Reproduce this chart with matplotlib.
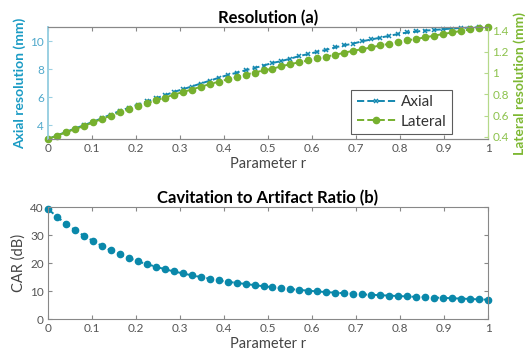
import numpy as np
import matplotlib
matplotlib.use("Agg")
import matplotlib.pyplot as plt
from matplotlib.ticker import FuncFormatter

# ---- data ----
r = np.linspace(0, 1, 50)
axial = [3.00, 3.25, 3.50, 3.75, 3.98, 4.23, 4.48, 4.75, 5.00, 5.23,
         5.46, 5.68, 5.91, 6.12, 6.36, 6.55, 6.75, 6.96, 7.16, 7.37,
         7.57, 7.73, 7.91, 8.07, 8.25, 8.43, 8.57, 8.74, 8.93, 9.07,
         9.23, 9.37, 9.55, 9.69, 9.82, 9.98, 10.11, 10.24, 10.37, 10.50,
         10.61, 10.68, 10.74, 10.79, 10.84, 10.89, 10.93, 10.96, 10.98, 11.00]
lateral = [0.381, 0.412, 0.444, 0.474, 0.502, 0.537, 0.568, 0.599, 0.631, 0.659,
           0.687, 0.715, 0.745, 0.767, 0.797, 0.820, 0.845, 0.870, 0.895, 0.918,
           0.940, 0.960, 0.984, 1.004, 1.024, 1.040, 1.063, 1.083, 1.101, 1.118,
           1.136, 1.154, 1.170, 1.190, 1.208, 1.223, 1.240, 1.259, 1.273, 1.290,
           1.306, 1.319, 1.334, 1.350, 1.365, 1.380, 1.394, 1.408, 1.420, 1.431]
car = [39.3, 36.5, 34.0, 31.8, 29.7, 27.9, 26.1, 24.5, 23.1, 21.8,
       20.6, 19.6, 18.7, 17.8, 17.0, 16.3, 15.6, 15.0, 14.4, 13.8,
       13.3, 12.9, 12.5, 12.1, 11.7, 11.35, 11.0, 10.7, 10.4, 10.1,
       9.85, 9.6, 9.4, 9.2, 9.0, 8.8, 8.65, 8.5, 8.35, 8.2,
       8.05, 7.9, 7.8, 7.65, 7.55, 7.4, 7.3, 7.15, 7.0, 6.9]
xticks = [0, 0.1, 0.2, 0.3, 0.4, 0.5, 0.6, 0.7, 0.8, 0.9, 1]
left_ticks = [4, 6, 8, 10]
right_ticks = [0.4, 0.6, 0.8, 1.0, 1.2, 1.4]
car_ticks = [0, 10, 20, 30, 40]

plt.rcParams['font.family'] = ['Lato', 'DejaVu Sans']

BLUE = '#1488B0'
GREEN = '#76B02E'
LBLUE_AX = '#9BD0E2'
LBLUE_TXT = '#4FA8CB'
LGREEN_AX = '#B5D98A'
LGREEN_TXT = '#8CC24C'
GRAY = '#555555'
SPINE = '#888888'

fmt = FuncFormatter(lambda v, p: ('%g' % round(v, 3)))

fig = plt.figure(figsize=(5.32, 3.62), dpi=100)
ax1 = fig.add_axes([48/532, 1-139/362, 440/532, 112/362])
ax2 = ax1.twinx()
ax3 = fig.add_axes([48/532, 1-319/362, 440/532, 112/362])

# top plot
l1, = ax1.plot(r, axial, '--', color=BLUE, lw=1.4, marker='x', ms=3, mew=1.1,
               label='Axial', clip_on=False)
l2, = ax2.plot(r, lateral, '--', color=GREEN, lw=1.4, marker='o', ms=4.5,
               label='Lateral', clip_on=False)
ax1.set_xlim(0, 1)
ax1.set_ylim(3, 11)
ax2.set_ylim(0.381, 1.431)
ax1.set_xticks(xticks)
ax1.xaxis.set_major_formatter(fmt)
ax1.set_yticks(left_ticks)
ax2.set_yticks(right_ticks)
ax2.yaxis.set_major_formatter(fmt)

for ax in (ax1, ax2, ax3):
    ax.tick_params(direction='in', length=3, width=0.8, labelsize=8.5,
                   colors=SPINE, labelcolor=GRAY, pad=3)
    for s in ax.spines.values():
        s.set_color(SPINE)
        s.set_linewidth(0.8)

ax1.tick_params(axis='x', top=True)
ax1.tick_params(axis='y', colors=LBLUE_AX, labelcolor=LBLUE_TXT)
ax2.tick_params(axis='y', colors=LGREEN_AX, labelcolor=LGREEN_TXT)
ax1.spines['left'].set_color(LBLUE_AX)
ax2.spines['left'].set_color(LBLUE_AX)
ax1.spines['right'].set_color(LGREEN_AX)
ax2.spines['right'].set_color(LGREEN_AX)
ax1.spines['left'].set_linewidth(1.2)
ax2.spines['left'].set_linewidth(1.2)

ax1.set_ylabel('Axial resolution (mm)', color='#1A9BC4', fontsize=10,
               fontweight='bold', labelpad=3)
ax2.set_ylabel('Lateral resolution (mm)', color='#7DB832', fontsize=10,
               fontweight='bold', labelpad=3)
ax1.set_xlabel('Parameter r', fontsize=10.5, color='#444444', labelpad=2)
ax1.set_title('Resolution (a)', fontsize=12, fontweight='bold', pad=3)

leg = ax2.legend(handles=[l1, l2], loc='lower right',
                 bbox_to_anchor=(404/440, 0.045), fontsize=11,
                 frameon=True, fancybox=False, handlelength=2.6,
                 borderpad=0.35, labelspacing=0.35, handletextpad=0.3,
                 borderaxespad=0)
leg.get_frame().set_edgecolor('#333333')
leg.get_frame().set_linewidth(0.8)
for t in leg.get_texts():
    t.set_color('#333333')

# bottom plot
ax3.plot(r, car, '--', color='#0A88AA', lw=1.4, marker='o', ms=4.5,
         clip_on=False)
ax3.set_xlim(0, 1)
ax3.set_ylim(0, 40)
ax3.set_xticks(xticks)
ax3.xaxis.set_major_formatter(fmt)
ax3.set_yticks(car_ticks)
ax3.tick_params(top=True, right=True)
ax3.set_ylabel('CAR (dB)', fontsize=10.5, color='#444444', labelpad=3)
ax3.set_xlabel('Parameter r', fontsize=10.5, color='#444444', labelpad=2)
ax3.set_title('Cavitation to Artifact Ratio (b)', fontsize=12,
              fontweight='bold', pad=3)

fig.savefig('out.png', dpi=100)
